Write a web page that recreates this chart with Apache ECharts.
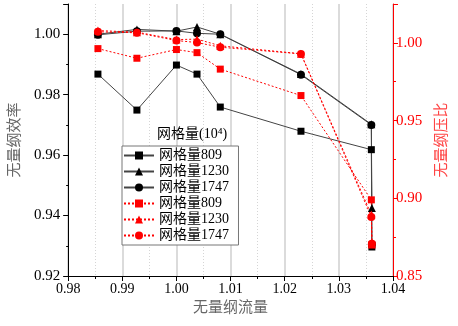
<!DOCTYPE html>
<html>
<head>
<meta charset="utf-8">
<script src="https://cdn.jsdelivr.net/npm/echarts@6/dist/echarts.min.js"></script>
<style>
  html, body { margin: 0; padding: 0; background: #fff; }
  #main { width: 458px; height: 326px; }
</style>
</head>
<body>
<div id="main"></div>
<script>
// 无量纲流量 (x)
var flowX = [0.9855, 0.9927, 1.0000, 1.0038, 1.0081, 1.0230, 1.0360, 1.0361];
// 无量纲效率 (左轴)
var eff809 = [0.9868, 0.9749, 0.9898, 0.9868, 0.9759, 0.9679, 0.9618, 0.9296];
var eff1230 = [1.0000, 1.0016, 1.0010, 1.0024, 1.0000, 0.9868, 0.9702, 0.9425];
var eff1747 = [0.9998, 1.0010, 1.0011, 1.0003, 1.0000, 0.9866, 0.9700, 0.9305];
// 无量纲压比 (右轴)
var pr809 = [0.9963, 0.9901, 0.9957, 0.9937, 0.9831, 0.9661, 0.8990, 0.8700];
var pr1230 = [1.0079, 1.0069, 1.0021, 1.0024, 0.9981, 0.9930, 0.8895, 0.8705];
var pr1747 = [1.0071, 1.0065, 1.0015, 1.0002, 0.9972, 0.9929, 0.8880, 0.8708];
var names = ['网格量809', '网格量1230', '网格量1747'];

var FONT = 'Liberation Serif, Noto Sans CJK SC, serif';

function pairs(ys) {
  var out = [];
  for (var i = 0; i < flowX.length; i++) out.push([flowX[i], ys[i]]);
  return out;
}

function blackSeries(name, ys, symbol, size) {
  return {
    name: name, type: 'line', yAxisIndex: 0,
    data: pairs(ys),
    symbol: symbol, symbolSize: size,
    lineStyle: { color: '#444', width: 1 },
    itemStyle: { color: '#000' }
  };
}
function redSeries(name, ys, symbol, size) {
  return {
    name: name, type: 'line', yAxisIndex: 1,
    data: pairs(ys),
    symbol: symbol, symbolSize: size,
    lineStyle: { color: '#ff0000', width: 1, type: [2, 2] },
    itemStyle: { color: '#ff0000' }
  };
}
function fmt(v) { return v.toFixed(2); }

var myChart = echarts.init(document.getElementById('main'));
var option = {
  animation: false,
  textStyle: { fontFamily: FONT },
  grid: { left: 62, right: 61, top: 4, bottom: 50 },
  title: {
    text: '网格量(10⁴)', left: 157, top: 127,
    textStyle: { fontFamily: FONT, fontSize: 14, fontWeight: 'normal', color: '#000' },
    padding: 0
  },
  legend: {
    orient: 'vertical', left: 122, top: 146,
    padding: [2, 6, 2, 1],
    itemWidth: 30, itemHeight: 10, itemGap: 1,
    backgroundColor: '#fff', borderColor: '#777', borderWidth: 1, borderRadius: 0,
    textStyle: { fontFamily: FONT, fontSize: 14, color: '#000', lineHeight: 15 },
    data: [
      { name: names[0] + ' ' }, { name: names[1] + ' ' }, { name: names[2] + ' ' },
      { name: names[0] }, { name: names[1] }, { name: names[2] }
    ]
  },
  xAxis: {
    type: 'value', min: 0.98, max: 1.04, interval: 0.01,
    name: '无量纲流量', nameLocation: 'middle', nameGap: 24,
    nameTextStyle: { fontFamily: FONT, fontSize: 15, color: '#666' },
    axisLine: { lineStyle: { color: '#000', width: 1 } },
    axisTick: { length: 5, lineStyle: { color: '#000' } },
    minorTick: { show: true, splitNumber: 2, length: 3, lineStyle: { color: '#000' } },
    axisLabel: { fontFamily: FONT, fontSize: 14, color: '#000', margin: 6, formatter: fmt },
    splitLine: { show: true, lineStyle: { color: '#cfcfcf', width: 1.5 } },
    minorSplitLine: { show: true, lineStyle: { color: '#d5d5d5', width: 1, type: [1, 2] } }
  },
  yAxis: [{
    type: 'value', min: 0.92, max: 1.01, interval: 0.02,
    name: '无量纲效率', nameLocation: 'middle', nameGap: 40,
    nameTextStyle: { fontFamily: FONT, fontSize: 15, color: '#666' },
    axisLine: { show: true, lineStyle: { color: '#000', width: 1 } },
    axisTick: { show: true, length: 5, lineStyle: { color: '#000' } },
    minorTick: { show: true, splitNumber: 2, length: 2, lineStyle: { color: '#000' } },
    axisLabel: { fontFamily: FONT, fontSize: 15, color: '#000', margin: 8, showMaxLabel: false, formatter: fmt },
    splitLine: { show: false }
  }, {
    type: 'value', min: 0.85, max: 1.025, interval: 0.05, position: 'right',
    name: '无量纲压比', nameLocation: 'middle', nameGap: 42,
    nameTextStyle: { fontFamily: FONT, fontSize: 15, color: '#ff4444' },
    axisLine: { show: true, lineStyle: { color: '#ff0000', width: 1 } },
    axisTick: { show: true, length: 5, lineStyle: { color: '#ff0000' } },
    minorTick: { show: true, splitNumber: 2, length: 3, lineStyle: { color: '#ff0000' } },
    axisLabel: { fontFamily: FONT, fontSize: 15, color: '#ff0000', margin: 3, showMaxLabel: false, formatter: fmt },
    splitLine: { show: false }
  }],
  series: [
    blackSeries(names[0] + ' ', eff809, 'rect', 7),
    blackSeries(names[1] + ' ', eff1230, 'triangle', 8),
    blackSeries(names[2] + ' ', eff1747, 'circle', 8),
    redSeries(names[0], pr809, 'rect', 7),
    redSeries(names[1], pr1230, 'triangle', 8),
    redSeries(names[2], pr1747, 'circle', 8)
  ]
};
myChart.setOption(option);
window.addEventListener('resize', function () {
  myChart.resize();
});
</script>
</body>
</html>
